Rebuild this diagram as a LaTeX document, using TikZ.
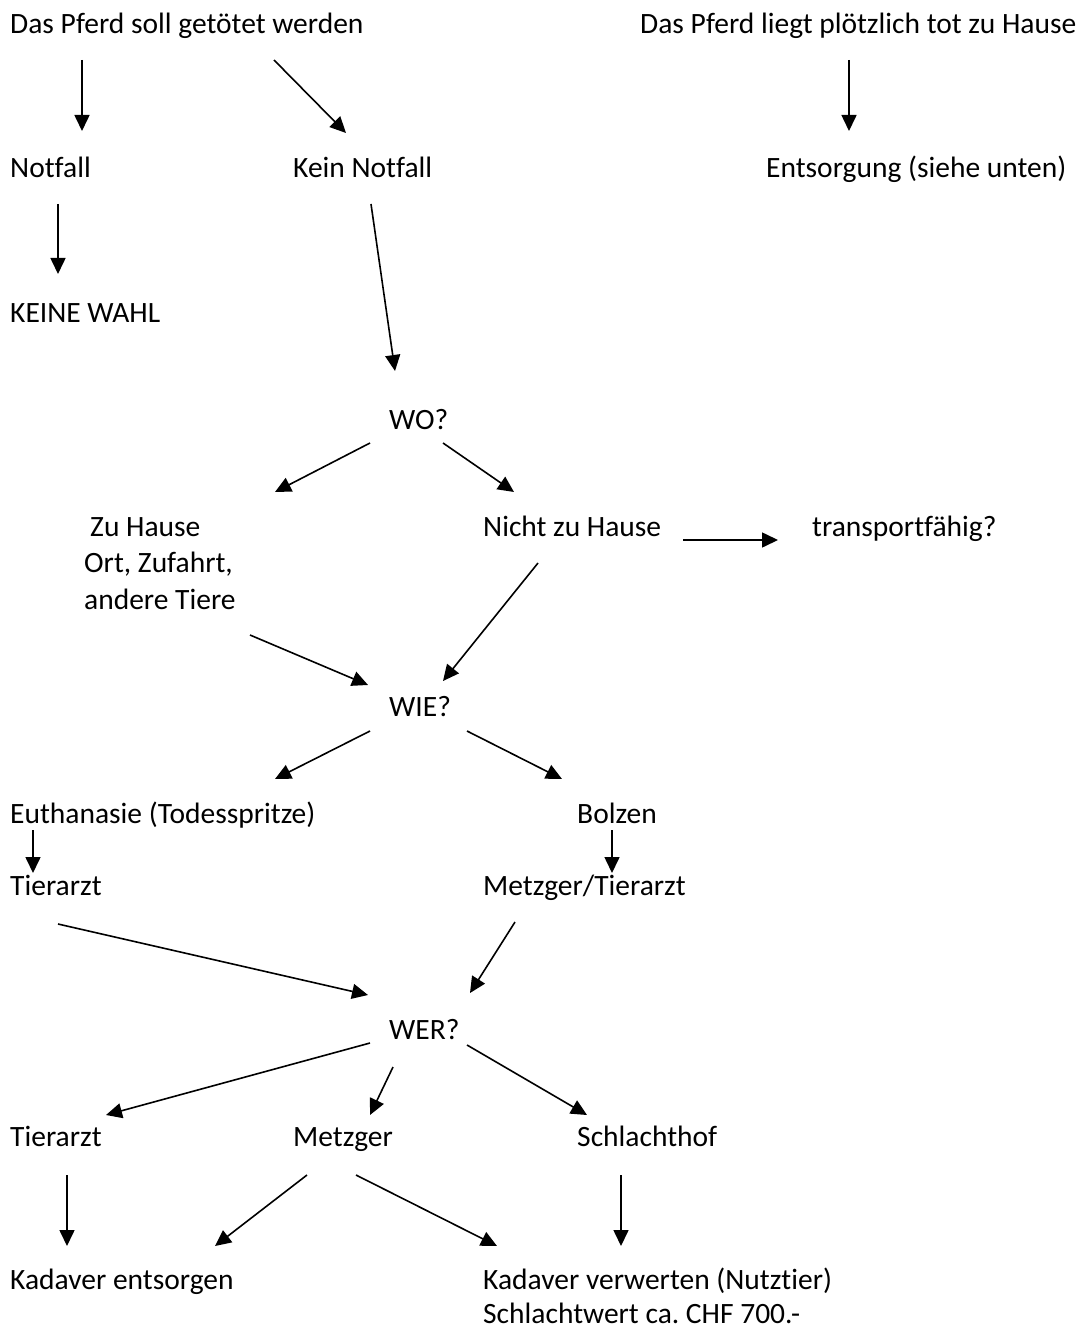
\documentclass[tikz,border=0pt]{standalone}
\usepackage{fontspec}
\setmainfont{Carlito}[Ligatures=CommonOff]
\usetikzlibrary{arrows.meta}
\frenchspacing
\tikzset{
  lbl/.style={anchor=base west, inner sep=0pt, font=\fontsize{29.5}{35}\selectfont\frenchspacing},
  arr/.style={line width=1.6pt, -{Triangle[length=16pt,width=15pt]}},
}
\begin{document}
\begin{tikzpicture}[x=1pt,y=-1pt]
\useasboundingbox (0,0) rectangle (1082,1329);
% texts
\node[lbl] (top1) at (10,34) {Das Pferd soll getötet werden};
\node[lbl] (top2) at (640,34) {Das Pferd liegt plötzlich tot zu Hause};
\node[lbl] (notfall) at (10,178) {Notfall};
\node[lbl] (kein) at (293,178) {Kein Notfall};
\node[lbl] (entsorg) at (766,178) {Entsorgung (siehe unten)};
\node[lbl] (keinewahl) at (10,322) {KEINE WAHL};
\node[lbl] (wo) at (389,429) {WO?};
\node[lbl] (zuhause) at (90,536) {Zu Hause};
\node[lbl] (zuhauseb) at (84,572) {Ort, Zufahrt,};
\node[lbl] (zuhausec) at (84,609) {andere Tiere};
\node[lbl] (nicht) at (483,536) {Nicht zu Hause};
\node[lbl] (transp) at (812,536) {transportfähig?};
\node[lbl] (wie) at (389,716) {WIE?};
\node[lbl] (euth) at (10,823) {Euthanasie (Todesspritze)};
\node[lbl] (bolzen) at (577,823) {Bolzen};
\node[lbl] (tier1) at (10,895) {Tierarzt};
\node[lbl] (metzt) at (483,895) {Metzger/Tierarzt};
\node[lbl] (wer) at (389,1039) {WER?};
\node[lbl] (tier2) at (10,1146) {Tierarzt};
\node[lbl] (metzger) at (293,1146) {Metzger};
\node[lbl] (schlacht) at (577,1146) {Schlachthof};
\node[lbl] (kadent) at (10,1289) {Kadaver entsorgen};
\node[lbl] (kadverw) at (483,1289) {Kadaver verwerten (Nutztier)};
\node[lbl] (kadverwb) at (483,1323) {Schlachtwert ca. CHF 700.-};
% arrow endpoints
\coordinate (a1s) at (82,60);   \coordinate (a1e) at (82,131);
\coordinate (a2s) at (274,60);  \coordinate (a2e) at (346,133);
\coordinate (a3s) at (849,60);  \coordinate (a3e) at (849,131);
\coordinate (a4s) at (58,204);  \coordinate (a4e) at (58,274);
\coordinate (a5s) at (371,204); \coordinate (a5e) at (395,371);
\coordinate (a6s) at (370,443); \coordinate (a6e) at (275,492);
\coordinate (a7s) at (443,443); \coordinate (a7e) at (514,492);
\coordinate (a8s) at (683,540); \coordinate (a8e) at (778,540);
\coordinate (a9s) at (250,635); \coordinate (a9e) at (368,685);
\coordinate (a10s) at (538,563); \coordinate (a10e) at (443,681);
\coordinate (a11s) at (370,731); \coordinate (a11e) at (275,779);
\coordinate (a12s) at (467,731); \coordinate (a12e) at (562,779);
\coordinate (a13s) at (33,830); \coordinate (a13e) at (33,873);
\coordinate (a14s) at (612,830); \coordinate (a14e) at (612,873);
\coordinate (a15s) at (58,924); \coordinate (a15e) at (368,995);
\coordinate (a16s) at (515,922); \coordinate (a16e) at (470,993);
\coordinate (a17s) at (370,1043); \coordinate (a17e) at (106,1115);
\coordinate (a18s) at (393,1067); \coordinate (a18e) at (370,1115);
\coordinate (a19s) at (467,1045); \coordinate (a19e) at (587,1115);
\coordinate (a20s) at (67,1175); \coordinate (a20e) at (67,1246);
\coordinate (a21s) at (307,1175); \coordinate (a21e) at (215,1246);
\coordinate (a22s) at (356,1175); \coordinate (a22e) at (497,1246);
\coordinate (a23s) at (621,1175); \coordinate (a23e) at (621,1246);
\foreach \i in {1,...,23} {\draw[arr] (a\i s) -- (a\i e);}
\end{tikzpicture}
\end{document}
